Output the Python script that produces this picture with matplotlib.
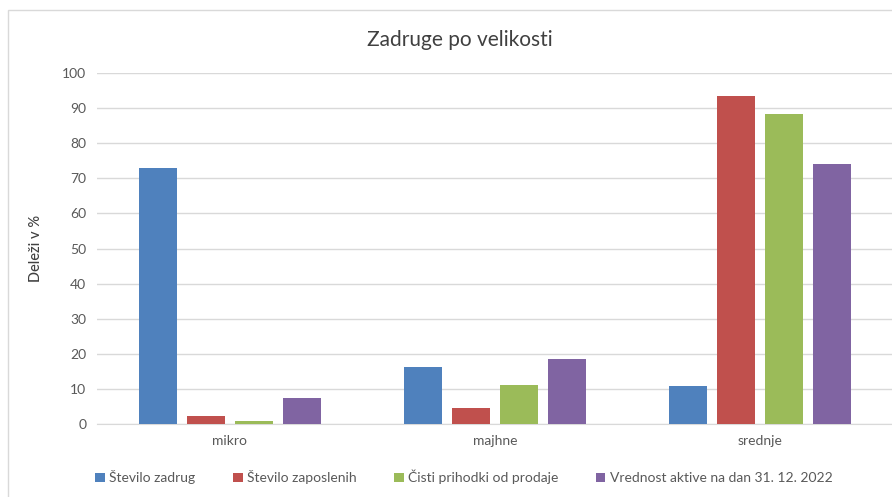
import matplotlib.pyplot as plt
import numpy as np
from matplotlib.patches import Rectangle

categories = ["mikro", "majhne", "srednje"]
series_names = [
  "Število zadrug",
  "Število zaposlenih",
  "Čisti prihodki od prodaje",
  "Vrednost aktive na dan 31. 12. 2022",
]
stevilo_zadrug = [73.0, 16.2, 10.8]
stevilo_zaposlenih = [2.3, 4.5, 93.4]
cisti_prihodki = [0.8, 11.1, 88.3]
vrednost_aktive = [7.4, 18.5, 74.1]
yticks = list(range(0, 101, 10))

colors = ["#4F81BD", "#C0504D", "#9BBB59", "#8064A2"]

plt.rcParams["font.family"] = ["Lato", "DejaVu Sans"]

fig = plt.figure(figsize=(8.92, 4.97), dpi=100)
ax = fig.add_axes([0.1093, 0.147, 0.891, 0.706])

x = np.arange(len(categories))
width = 0.143
step = 0.181
all_series = [stevilo_zadrug, stevilo_zaposlenih, cisti_prihodki, vrednost_aktive]
for i, (values, name) in enumerate(zip(all_series, series_names)):
  offset = (i - 1.5) * step
  ax.bar(x + offset, values, width=width, color=colors[i], label=name, zorder=3)

ax.set_xlim(-0.5, 2.5)
ax.set_ylim(0, 100)
ax.set_yticks(yticks)
ax.set_xticks(x)
ax.set_xticklabels(categories)
ax.tick_params(axis="both", length=0, labelsize=10, colors="#595959", pad=8)
ax.grid(axis="y", color="#D9D9D9", linewidth=1, zorder=0)
for side in ["top", "right", "left"]:
  ax.spines[side].set_visible(False)
ax.spines["bottom"].set_color("#D9D9D9")
ax.set_ylabel("Deleži v %", fontsize=10.5, color="#404040", labelpad=14,
              fontweight="medium")

fig.text(0.515, 0.92, "Zadruge po velikosti", ha="center", va="center",
         fontsize=15, color="#404040")

fig.legend(loc="center", bbox_to_anchor=(0.52, 0.04), ncol=4, frameon=False,
           fontsize=10, handlelength=0.7, handleheight=0.7, handletextpad=0.3,
           columnspacing=2.7, labelcolor="#595959")

fig.patches.append(Rectangle((8 / 892, -0.01), 1.0, 1 - 10 / 497 + 0.01,
                             transform=fig.transFigure, fill=False,
                             edgecolor="#D9D9D9", linewidth=1))

fig.savefig("out.png", dpi=100)
